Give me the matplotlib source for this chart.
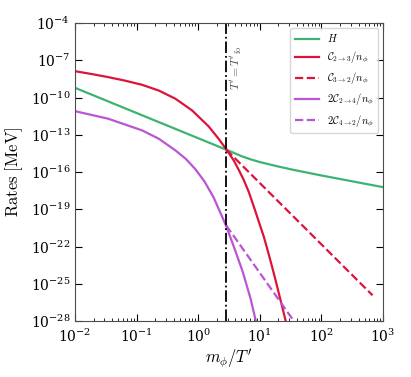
import numpy as np
import matplotlib
matplotlib.use('Agg')
from matplotlib import pyplot as plt
from matplotlib.ticker import NullLocator, LogFormatterMathtext

plt.rcParams['mathtext.fontset'] = 'cm'
plt.rcParams['font.family'] = ['DejaVu Serif']

# data, as log10 values
H_logx = [-2.0, -1.0, 0.0, 0.443, 0.55, 0.7, 0.85, 1.0, 1.25, 1.5, 2.0, 2.5, 3.0]
H_logy = [-9.22, -11.25, -13.28, -14.18, -14.40, -14.72, -14.98, -15.2, -15.5, -15.78, -16.28, -16.75, -17.22]

C23_logx = [-2.0, -1.73, -1.46, -1.19, -0.91, -0.64, -0.37, -0.10, 0.17, 0.33, 0.46,
            0.58, 0.66, 0.74, 0.82, 0.90, 0.98, 1.07, 1.14, 1.20, 1.26, 1.31, 1.36, 1.39, 1.45]
C23_logy = [-7.88, -8.11, -8.36, -8.64, -8.98, -9.44, -10.10, -11.04, -12.33, -13.32, -14.2,
            -15.1, -15.85, -16.65, -17.6, -18.75, -19.95, -21.3, -22.55, -23.65, -24.8, -25.8,
            -26.8, -27.4, -28.6]

C32_logx = [0.455, 2.83]
C32_logy = [-14.2, -25.93]

C24_logx = [-2.0, -1.46, -0.91, -0.64, -0.37, -0.2, -0.05, 0.1, 0.25, 0.45, 0.58, 0.72,
            0.85, 0.93, 0.97]
C24_logy = [-11.10, -11.71, -12.65, -13.32, -14.26, -14.95, -15.75, -16.75, -18.05, -20.3,
            -22.04, -24.0, -26.2, -27.9, -28.7]

C42_logx = [0.455, 1.58]
C42_logy = [-20.3, -28.2]

x_fo = 10**0.455

green = '#3cb371'
red = '#dc143c'
purple = '#ba55d3'

fig = plt.figure(figsize=(4.11, 3.77), dpi=100)
ax = fig.add_axes([0.1825, 0.1485, 0.7495, 0.7905])

def pw(v):
    return 10.0**np.array(v)

ax.plot(pw(H_logx), pw(H_logy), color=green, lw=1.6, label=r'$H$')
ax.plot(pw(C23_logx), pw(C23_logy), color=red, lw=1.6, label=r'$\mathcal{C}_{2\to3}/n_\phi$')
ax.plot(pw(C32_logx), pw(C32_logy), color=red, lw=1.6, ls='--', label=r'$\mathcal{C}_{3\to2}/n_\phi$')
ax.plot(pw(C24_logx), pw(C24_logy), color=purple, lw=1.6, label=r'$2\mathcal{C}_{2\to4}/n_\phi$')
ax.plot(pw(C42_logx), pw(C42_logy), color=purple, lw=1.6, ls='--', label=r'$2\mathcal{C}_{4\to2}/n_\phi$')
ax.axvline(x_fo, color='k', lw=1.3, ls='-.')
ax.text(10**0.62, 10**-7.58, r"$T' = T'_{\rm fo}$", rotation=90, ha='center', va='center',
        fontsize=8.5, color='0.3')

ax.set_xscale('log')
ax.set_yscale('log')
ax.set_xlim(1e-2, 1e3)
ax.set_ylim(1e-28, 1e-4)
ax.set_yticks([10.0**k for k in range(-28, -3, 3)])
ax.yaxis.set_major_formatter(LogFormatterMathtext())
ax.yaxis.set_minor_locator(NullLocator())
ax.tick_params(which='both', direction='in', top=True, right=True, labelsize=10)
ax.tick_params(which='major', length=5)
ax.tick_params(which='minor', length=2.5)
ax.tick_params(axis='x', pad=5)
for s in ax.spines.values():
    s.set_color('0.3')

ax.set_xlabel(r"$m_\phi/T'$", fontsize=12, labelpad=2)
ax.set_ylabel(r'$\mathrm{Rates\ [MeV]}$', fontsize=12)
ax.legend(loc='upper right', fontsize=7.5, handlelength=2.3, fancybox=True, edgecolor='0.8')

fig.savefig('out.png', dpi=100)
